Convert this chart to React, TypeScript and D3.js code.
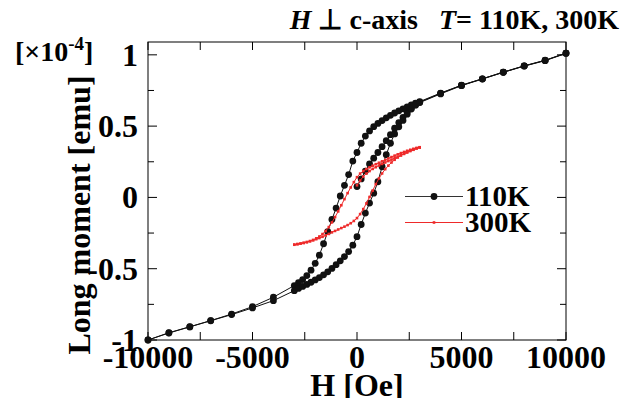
import React from "react";
import * as d3 from "d3";

// 110K loop: virgin curve, descending branch, ascending branch
const hVirgin110 = [0, 200, 400, 600, 800, 1000, 1200, 1400, 1600, 1800, 2000, 2200, 2400, 2600, 2800, 3000, 4000, 5000, 6000, 7000, 8000, 9000, 10000];
const mVirgin110 = [0.076, 0.13, 0.185, 0.235, 0.275, 0.315, 0.356, 0.398, 0.44, 0.485, 0.525, 0.562, 0.597, 0.627, 0.65, 0.668, 0.73, 0.786, 0.832, 0.878, 0.922, 0.961, 1.012];

const hDesc110 = [10000, 9000, 8000, 7000, 6000, 5000, 4000, 3000, 2800, 2600, 2400, 2200, 2000, 1800, 1600, 1400, 1200, 1000, 800, 600, 400, 200, 0, -200, -400, -600, -800, -1000, -1200, -1400, -1600, -1800, -2000, -2200, -2400, -2600, -2800, -3000, -4000, -5000, -6000, -7000, -8000, -9000, -10000];
const mDesc110 = [1.012, 0.962, 0.923, 0.879, 0.832, 0.787, 0.732, 0.672, 0.661, 0.648, 0.635, 0.621, 0.607, 0.592, 0.576, 0.558, 0.539, 0.519, 0.496, 0.466, 0.43, 0.38, 0.315, 0.255, 0.16, 0.085, 0.01, -0.075, -0.155, -0.24, -0.325, -0.405, -0.462, -0.51, -0.548, -0.576, -0.598, -0.618, -0.7, -0.766, -0.818, -0.864, -0.907, -0.949, -1.0];

const hAsc110 = [-10000, -9000, -8000, -7000, -6000, -5000, -4000, -3000, -2800, -2600, -2400, -2200, -2000, -1800, -1600, -1400, -1200, -1000, -800, -600, -400, -200, 0, 200, 400, 600, 800, 1000, 1200, 1400, 1600, 1800, 2000, 2200, 2400, 2600, 2800, 3000, 4000, 5000, 6000, 7000, 8000, 9000, 10000];
const mAsc110 = [-1.0, -0.951, -0.908, -0.865, -0.822, -0.775, -0.724, -0.654, -0.638, -0.624, -0.61, -0.595, -0.579, -0.562, -0.543, -0.522, -0.498, -0.472, -0.445, -0.415, -0.38, -0.335, -0.275, -0.19, -0.11, -0.04, 0.03, 0.11, 0.215, 0.3, 0.38, 0.445, 0.495, 0.54, 0.584, 0.62, 0.647, 0.665, 0.726, 0.784, 0.83, 0.877, 0.921, 0.959, 1.01];

// 300K loop
const hVirgin300 = [0, 150, 300, 450, 600, 750, 900, 1050, 1200, 1350, 1500, 1650, 1800, 1950, 2100, 2250, 2400, 2550, 2700, 2850, 3000];
const mVirgin300 = [0.085, 0.118, 0.146, 0.167, 0.185, 0.2, 0.212, 0.224, 0.235, 0.245, 0.255, 0.265, 0.275, 0.285, 0.295, 0.305, 0.315, 0.325, 0.334, 0.343, 0.35];

const hDesc300 = [3000, 2850, 2700, 2550, 2400, 2250, 2100, 1950, 1800, 1650, 1500, 1350, 1200, 1050, 900, 750, 600, 450, 300, 150, 0, -150, -300, -450, -600, -750, -900, -1050, -1200, -1350, -1500, -1650, -1800, -1950, -2100, -2250, -2400, -2550, -2700, -2850, -3000];
const mDesc300 = [0.352, 0.347, 0.341, 0.334, 0.327, 0.319, 0.311, 0.302, 0.293, 0.283, 0.273, 0.263, 0.253, 0.243, 0.233, 0.222, 0.211, 0.199, 0.185, 0.167, 0.142, 0.107, 0.07, 0.03, -0.012, -0.055, -0.098, -0.138, -0.175, -0.208, -0.236, -0.257, -0.274, -0.287, -0.298, -0.306, -0.313, -0.319, -0.323, -0.327, -0.331];

const hAsc300 = [-3000, -2850, -2700, -2550, -2400, -2250, -2100, -1950, -1800, -1650, -1500, -1350, -1200, -1050, -900, -750, -600, -450, -300, -150, 0, 150, 300, 450, 600, 750, 900, 1050, 1200, 1350, 1500, 1650, 1800, 1950, 2100, 2250, 2400, 2550, 2700, 2850, 3000];
const mAsc300 = [-0.332, -0.328, -0.324, -0.319, -0.314, -0.308, -0.301, -0.293, -0.285, -0.276, -0.266, -0.256, -0.245, -0.235, -0.225, -0.215, -0.205, -0.194, -0.181, -0.165, -0.145, -0.117, -0.082, -0.042, 0.003, 0.048, 0.093, 0.133, 0.168, 0.198, 0.223, 0.245, 0.264, 0.28, 0.295, 0.308, 0.319, 0.329, 0.337, 0.345, 0.351];

const xTickLabels = [-10000, -5000, 0, 5000, 10000];
const xTicks = [-10000, -7500, -5000, -2500, 0, 2500, 5000, 7500, 10000];
const yTickLabels = [-1, -0.5, 0, 0.5, 1];
const yTicks = [-1, -0.75, -0.5, -0.25, 0, 0.25, 0.5, 0.75, 1];

const FONT = "'Liberation Serif', 'Times New Roman', serif";
const RED = "#ee2a2a";

const zip = (hs: number[], ms: number[]) => hs.map((h, i) => [h, ms[i]] as [number, number]);

export default function App() {
  const left = 148, right = 566, top = 42, bottom = 340;
  const x = d3.scaleLinear().domain([-10000, 10000]).range([left, right]);
  const y = d3.scaleLinear().domain([-1, 1.09]).range([bottom, top]);
  const line = d3.line<[number, number]>().x((d) => x(d[0])).y((d) => y(d[1]));

  const black = [zip(hVirgin110, mVirgin110), zip(hDesc110, mDesc110), zip(hAsc110, mAsc110)];
  const red = [zip(hVirgin300, mVirgin300), zip(hDesc300, mDesc300), zip(hAsc300, mAsc300)];

  return (
    <svg width={628} height={398} style={{ position: "absolute", left: 0, top: 0, background: "#fff" }} fontFamily={FONT}>
      <rect x={left} y={top} width={right - left} height={bottom - top} fill="none" stroke="#000" strokeWidth={1} />
      {xTicks.map((t) => (
        <g key={"xt" + t}>
          <line x1={x(t)} x2={x(t)} y1={bottom} y2={bottom - 8} stroke="#000" />
          <line x1={x(t)} x2={x(t)} y1={top} y2={top + 8} stroke="#000" />
        </g>
      ))}
      {yTicks.map((t) => {
        const len = yTickLabels.includes(t) ? 9 : 6;
        return (
          <g key={"yt" + t}>
            <line x1={left} x2={left + len} y1={y(t)} y2={y(t)} stroke="#000" />
            <line x1={right} x2={right - len} y1={y(t)} y2={y(t)} stroke="#000" />
          </g>
        );
      })}
      {xTickLabels.map((t) => (
        <text key={"xl" + t} x={x(t)} y={368} textAnchor="middle" fontSize={32} fontWeight="bold">
          {t < 0 ? "-" + Math.abs(t) : t}
        </text>
      ))}
      {yTickLabels.map((t) => (
        <text key={"yl" + t} x={138} y={y(t) + 11} textAnchor="end" fontSize={32} fontWeight="bold">
          {t < 0 ? "-" + Math.abs(t) : t}
        </text>
      ))}
      <text x={357} y={396} textAnchor="middle" fontSize={32} fontWeight="bold">H [Oe]</text>
      <text transform="translate(90,215) rotate(-90)" textAnchor="middle" fontSize={32} fontWeight="bold">Long moment [emu]</text>
      <text x={15} y={61} fontSize={28} fontWeight="bold">
        [×10<tspan dy={-11} fontSize={19}>-4</tspan><tspan dy={11}>]</tspan>
      </text>
      <text x={619} y={29} textAnchor="end" fontSize={28} fontWeight="bold">
        <tspan fontStyle="italic">H</tspan> ⊥ c-axis{"\u00a0\u00a0\u00a0"}<tspan fontStyle="italic">T</tspan>= 110K, 300K
      </text>

      {black.map((pts, i) => (
        <path key={"bl" + i} d={line(pts) || ""} fill="none" stroke="#111" strokeWidth={1} />
      ))}
      {black.map((pts, i) =>
        pts.map((d, j) => <circle key={"bc" + i + "-" + j} cx={x(d[0])} cy={y(d[1])} r={3.4} fill="#111" />)
      )}
      {red.map((pts, i) => (
        <path key={"rl" + i} d={line(pts) || ""} fill="none" stroke={RED} strokeWidth={1} />
      ))}
      {red.map((pts, i) =>
        pts.map((d, j) => (
          <rect key={"rc" + i + "-" + j} x={x(d[0]) - 1.3} y={y(d[1]) - 1.3} width={2.6} height={2.6} fill={RED} />
        ))
      )}

      <line x1={405} x2={463} y1={196.5} y2={196.5} stroke="#333" strokeWidth={1} />
      <circle cx={434} cy={196.5} r={3.4} fill="#111" />
      <text x={465} y={206} fontSize={29} fontWeight="bold">110K</text>
      <line x1={405} x2={463} y1={222.5} y2={222.5} stroke={RED} strokeWidth={1} />
      <rect x={432.7} y={221.2} width={2.6} height={2.6} fill={RED} />
      <text x={465} y={232} fontSize={29} fontWeight="bold">300K</text>
    </svg>
  );
}
